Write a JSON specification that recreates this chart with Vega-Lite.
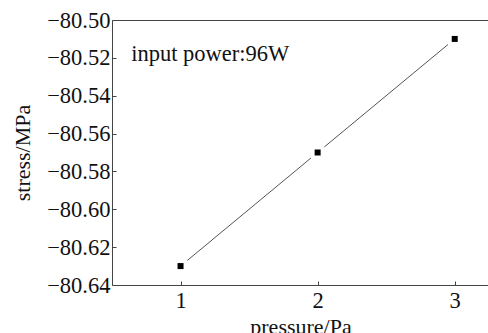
{
  "$schema": "https://vega.github.io/schema/vega-lite/v6.json",
  "autosize": {"type": "none"},
  "padding": {"left": 112, "top": 20, "right": 0, "bottom": 48},
  "width": 377,
  "height": 265,
  "background": "white",
  "config": {
    "view": {"stroke": "#444", "strokeWidth": 1},
    "font": "Liberation Serif",
    "axis": {
      "grid": false,
      "domain": false,
      "tickColor": "#444",
      "tickSize": -4,
      "labelOverlap": false,
      "labelFont": "Liberation Serif",
      "labelFontSize": 22.5,
      "labelFontWeight": "normal",
      "labelColor": "#111",
      "titleFont": "Liberation Serif",
      "titleFontSize": 22,
      "titleFontWeight": "normal",
      "titleColor": "#111"
    }
  },
  "data": {
    "values": [
      {"pressure": 1, "stress": -80.63},
      {"pressure": 2, "stress": -80.57},
      {"pressure": 3, "stress": -80.51}
    ]
  },
  "encoding": {
    "x": {
      "field": "pressure", "type": "quantitative",
      "scale": {"domain": [0.5, 3.25], "nice": false, "zero": false},
      "axis": {"values": [1, 2, 3], "format": "d", "title": "pressure/Pa", "labelPadding": 8, "titlePadding": 5, "labelOverlap": false}
    },
    "y": {
      "field": "stress", "type": "quantitative",
      "scale": {"domain": [-80.64, -80.5], "nice": false, "zero": false},
      "axis": {"values": [-80.64, -80.62, -80.6, -80.58, -80.56, -80.54, -80.52, -80.5], "format": ".2f", "title": "stress/MPa", "labelPadding": 6, "titlePadding": 12, "labelOverlap": false}
    }
  },
  "layer": [
    {
      "mark": {"type": "line", "color": "#555", "strokeWidth": 1}
    },
    {
      "mark": {"type": "point", "shape": "square", "filled": true, "color": "white", "size": 180, "opacity": 1}
    },
    {
      "mark": {"type": "point", "shape": "square", "filled": true, "color": "black", "size": 36, "opacity": 1}
    },
    {
      "data": {"values": [{"px": 0.64, "py": -80.5215, "label": "input power:96W"}]},
      "mark": {"type": "text", "align": "left", "baseline": "alphabetic", "fontSize": 22.5, "fontWeight": "normal", "font": "Liberation Serif", "color": "#111"},
      "encoding": {
        "x": {"field": "px", "type": "quantitative"},
        "y": {"field": "py", "type": "quantitative"},
        "text": {"field": "label"}
      }
    }
  ]
}
